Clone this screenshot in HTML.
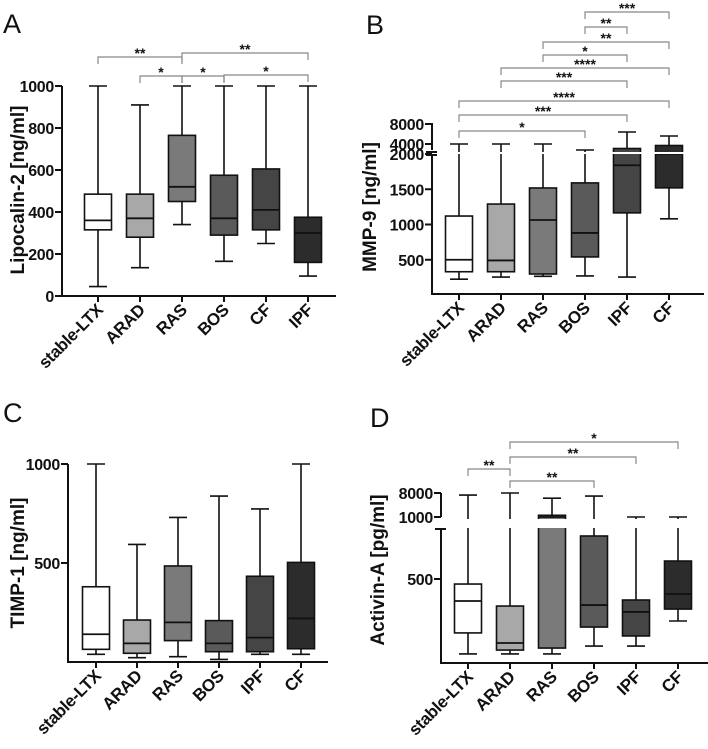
<!DOCTYPE html>
<html><head><meta charset="utf-8">
<style>
html,body{margin:0;padding:0;background:#fff;}
svg{display:block;font-family:"Liberation Sans",Arial,sans-serif;}
.tk{font-size:16px;font-weight:bold;fill:#111;letter-spacing:-0.3px;}
.yl{font-size:19px;font-weight:bold;fill:#111;}
.xl{font-size:17px;font-weight:bold;fill:#111;letter-spacing:-0.3px;}
.pl{font-size:27px;fill:#111;}
.st{font-size:14px;font-weight:bold;fill:#111;}
</style></head>
<body>
<svg id="fig" width="708" height="749" viewBox="0 0 708 749" xmlns="http://www.w3.org/2000/svg"></svg>
<script>
// ---- Panel A: Lipocalin-2 ----
const catsA = ["stable-LTX","ARAD","RAS","BOS","CF","IPF"];
const lowA = [45,135,340,165,250,95];
const q1A = [315,280,450,290,315,160];
const medA = [360,370,520,370,410,300];
const q3A = [485,485,765,575,605,375];
const highA = [1000,910,1000,1000,1000,1000];
const ticksA = [0,200,400,600,800,1000];
const sigA = [[0,2,"**",57],[1,2,"*",76],[2,5,"**",53],[2,3,"*",76],[3,5,"*",75]];
// ---- Panel B: MMP-9 ----
const catsB = ["stable-LTX","ARAD","RAS","BOS","IPF","CF"];
const lowB = [225,255,265,270,255,1080];
const q1B = [330,330,298,540,1165,1520];
const medB = [500,490,1064,880,1840,2000];
const q3B = [1120,1290,1518,1590,3100,3700];
const highB = [4000,4000,4000,2800,6400,5600];
const ticksB = [500,1000,1500,2000,4000,8000];
const sigB = [[0,3,"*",131],[0,4,"***",115],[0,5,"****",101],[1,4,"***",81],[1,5,"****",68],[2,4,"*",55],[2,5,"**",42],[3,4,"**",27],[3,5,"***",12]];
// ---- Panel C: TIMP-1 ----
const catsC = ["stable-LTX","ARAD","RAS","BOS","IPF","CF"];
const lowC = [39,22,27,13,39,39];
const q1C = [64,44,108,52,52,67];
const medC = [140,94,200,94,123,220];
const q3C = [380,212,485,209,433,503];
const highC = [1000,594,730,838,773,1000];
const ticksC = [500,1000];
// ---- Panel D: Activin-A ----
const catsD = ["stable-LTX","ARAD","RAS","BOS","IPF","CF"];
const lowD = [54,54,54,101,101,250];
const q1D = [179,77,89,214,161,321];
const medD = [369,119,1000,345,304,411];
const q3D = [470,339,1500,756,375,607];
const highD = [7400,8000,6500,7100,1000,1000];
const ticksD = [500,1000,8000];
const sigD = [[0,1,"**",469],[1,3,"**",481],[1,4,"**",457],[1,5,"*",442]];

const colors = ["#ffffff","#a8a8a8","#7a7a7a","#5a5a5a","#454545","#2c2c2c"];
const colorsA = ["#ffffff","#a8a8a8","#7a7a7a","#5a5a5a","#454545","#2c2c2c"];
const NS = "http://www.w3.org/2000/svg";
const svg = document.getElementById("fig");
function mk(tag, attrs, parent, text){
  const e = document.createElementNS(NS, tag);
  for (const k in attrs) e.setAttribute(k, attrs[k]);
  if (text !== undefined) e.textContent = text;
  (parent || svg).appendChild(e);
  return e;
}

function panel(o){
  const g = mk("g", {});
  
  
  const xOf = i => o.x0 + i * o.dx;
  const bw = 27;
  for (let i = 0; i < o.cats.length; i++){
    const cx = xOf(i);
    const bg = mk("g", {}, g);
    
    
    const yl = o.y(o.low[i]), y1 = o.y(o.q1[i]), ym = o.y(o.med[i]), y3 = o.y(o.q3[i]), yh = o.y(o.high[i]);
    mk("line", {x1:cx,x2:cx,y1:yh,y2:y3,stroke:"#111","stroke-width":1.6}, bg);
    mk("line", {x1:cx,x2:cx,y1:y1,y2:yl,stroke:"#111","stroke-width":1.6}, bg);
    mk("line", {x1:cx-9,x2:cx+9,y1:yh,y2:yh,stroke:"#111","stroke-width":1.6}, bg);
    mk("line", {x1:cx-9,x2:cx+9,y1:yl,y2:yl,stroke:"#111","stroke-width":1.6}, bg);
    mk("rect", {x:cx-bw/2,y:y3,width:bw,height:Math.max(1,y1-y3),fill:o.colors[i],stroke:"#111","stroke-width":1.6}, bg);
    mk("line", {x1:cx-bw/2,x2:cx+bw/2,y1:ym,y2:ym,stroke:"#111","stroke-width":1.8}, bg);
  }
  if (o.breakBand){
    const b = mk("rect", {x:o.ax+2,y:o.breakBand[0],width:o.axEnd-o.ax,height:o.breakBand[1]-o.breakBand[0],fill:"#fff"}, g);
    
    
  }
  const yax = mk("g", {}, g);
  
  
  if (o.ySegs){
    o.ySegs.forEach(s => mk("line", {x1:o.ax,x2:o.ax,y1:s[0],y2:s[1],stroke:"#111","stroke-width":2}, yax));
  } else {
    mk("line", {x1:o.ax,x2:o.ax,y1:o.y(o.ticks[o.ticks.length-1]),y2:o.axY,stroke:"#111","stroke-width":2}, yax);
  }
  (o.extraMarks||[]).forEach(yy => mk("line", {x1:o.ax-6,x2:o.ax+5,y1:yy,y2:yy,stroke:"#111","stroke-width":2}, yax));
  o.ticks.forEach(t => {
    const yy = o.y(t);
    mk("line", {x1:o.ax-7,x2:o.ax,y1:yy,y2:yy,stroke:"#111","stroke-width":2}, yax);
    const tl = mk("text", {x:o.ax-8,y:yy+6,"text-anchor":"end",class:"tk"}, yax, String(t));
    
    
  });
  const xax = mk("g", {}, g);
  
  
  mk("line", {x1:o.ax-1,x2:o.axEnd,y1:o.axY,y2:o.axY,stroke:"#111","stroke-width":2}, xax);
  for (let i = 0; i < o.cats.length; i++){
    const cx = xOf(i);
    mk("line", {x1:cx,x2:cx,y1:o.axY,y2:o.axY+6,stroke:"#111","stroke-width":2}, xax);
    const tx = cx + 6, ty = o.axY + 15;
    const xl = mk("text", {x:tx,y:ty,"text-anchor":"end",class:"xl",transform:`rotate(-45 ${tx} ${ty})`}, xax, o.cats[i]);
    
    
  }
  const yt = mk("text", {x:o.ylx,y:o.yly,"text-anchor":"middle",class:"yl",transform:`rotate(-90 ${o.ylx} ${o.yly})`}, g, o.ytitle);
  
  
  const pl = mk("text", {x:o.lx,y:o.ly,class:"pl"}, g, o.letter);
  
  
  (o.sig||[]).forEach(s => {
    const a = xOf(s[0]), b = xOf(s[1]), yy = s[3];
    const sg = mk("g", {}, g);
    
    
    mk("path", {d:`M${a},${yy+7}V${yy}H${b}V${yy+7}`,fill:"none",stroke:"#888","stroke-width":1.2}, sg);
    mk("text", {x:(a+b)/2,y:yy+1,"text-anchor":"middle",class:"st"}, sg, s[2]);
  });
}

panel({name:"panel-a-lipocalin", letter:"A", lx:3, ly:33, cats:catsA, low:lowA,q1:q1A,med:medA,q3:q3A,high:highA, ticks:ticksA,
  colors:colorsA, x0:98, dx:42, ax:62, axEnd:336, axY:296, y:v=>296 - v*0.21,
  ylx:24, yly:190, ytitle:"Lipocalin-2 [ng/ml]", sig:sigA});
const yB = v => v <= 2000 ? 295 - v*0.0705 : 154 - (v-2000)*0.005;
panel({name:"panel-b-mmp9", letter:"B", lx:366, ly:34, cats:catsB, low:lowB,q1:q1B,med:medB,q3:q3B,high:highB, ticks:ticksB,
  colors:colors, x0:459, dx:42, ax:432, axEnd:704, axY:294, y:yB,
  ySegs:[[123,150],[155,294]], extraMarks:[152,155], breakBand:[152,154],
  ylx:376, yly:207, ytitle:"MMP-9 [ng/ml]", sig:sigB});
panel({name:"panel-c-timp1", letter:"C", lx:3, ly:422, cats:catsC, low:lowC,q1:q1C,med:medC,q3:q3C,high:highC, ticks:ticksC,
  colors:colors, x0:96, dx:41, ax:68, axEnd:328, axY:662, y:v=>662 - v*0.198,
  ylx:24, yly:563, ytitle:"TIMP-1 [ng/ml]", sig:[]});
const yD = v => v <= 900 ? 663 - v*0.168 : 517 - (v-1000)*24/7000;
panel({name:"panel-d-activin", letter:"D", lx:370, ly:427, cats:catsD, low:lowD,q1:q1D,med:medD,q3:q3D,high:highD, ticks:ticksD,
  colors:colors, x0:468, dx:42, ax:441, axEnd:708, axY:663, y:yD,
  ySegs:[[493,517],[529,663]], extraMarks:[529], breakBand:[519,528],
  ylx:384, yly:570, ytitle:"Activin-A [pg/ml]", sig:sigD});
</script>
</body></html>
